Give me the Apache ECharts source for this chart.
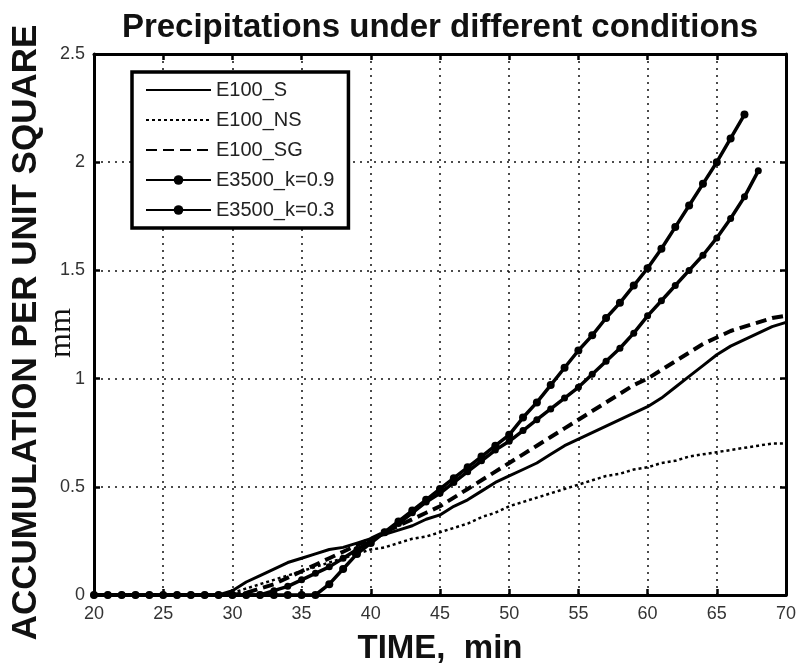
<!DOCTYPE html>
<html>
<head>
<meta charset="utf-8">
<script src="https://cdn.jsdelivr.net/npm/echarts@6/dist/echarts.min.js"></script>
<style>
html,body{margin:0;padding:0;background:#fff;}
#chart{width:799px;height:670px;}
</style>
</head>
<body>
<div id="chart"></div>
<script>
// ---- data ----
const time = [20,21,22,23,24,25,26,27,28,29,30,31,32,33,34,35,36,37,38,39,40,41,42,43,44,45,46,47,48,49,50,51,52,53,54,55,56,57,58,59,60,61,62,63,64,65,66,67,68,69,70];
const xTicks = [20,25,30,35,40,45,50,55,60,65,70];
const yTicks = [0,0.5,1,1.5,2,2.5];
const seriesNames = ['E100_S','E100_NS','E100_SG','E3500_k=0.9','E3500_k=0.3'];
const E100_S = [0,0,0,0,0,0,0,0,0,0,
  0.02,0.06,0.09,0.12,0.15,0.17,0.19,0.21,0.22,0.24,
  0.26,0.28,0.30,0.32,0.35,0.37,0.41,0.44,0.48,0.52,
  0.55,0.58,0.61,0.65,0.69,0.72,0.75,0.78,0.81,0.84,
  0.87,0.91,0.96,1.01,1.06,1.11,1.15,1.18,1.21,1.24,
  1.26];
const E100_NS = [0,0,0,0,0,0,0,0,0,0,
  0.01,0.03,0.05,0.07,0.09,0.11,0.13,0.15,0.17,0.19,
  0.21,0.22,0.24,0.26,0.27,0.29,0.31,0.33,0.36,0.38,
  0.41,0.43,0.45,0.47,0.49,0.51,0.53,0.55,0.56,0.58,
  0.59,0.61,0.62,0.64,0.65,0.66,0.67,0.68,0.69,0.70,
  0.70];
const E100_SG = [0,0,0,0,0,0,0,0,0,0,
  0,0.01,0.03,0.05,0.08,0.11,0.14,0.17,0.20,0.23,
  0.26,0.29,0.32,0.35,0.38,0.41,0.45,0.49,0.53,0.57,
  0.61,0.65,0.69,0.73,0.77,0.81,0.85,0.89,0.93,0.97,
  1.00,1.04,1.08,1.12,1.16,1.19,1.22,1.24,1.26,1.28,
  1.29];
const E3500_k09 = [0,0,0,0,0,0,0,0,0,0,
  0,0,0,0,0,0,0,0.05,0.12,0.19,
  0.24,0.29,0.34,0.39,0.44,0.49,0.54,0.59,0.64,0.69,
  0.74,0.82,0.89,0.97,1.05,1.13,1.20,1.28,1.35,1.43,
  1.51,1.60,1.70,1.80,1.90,2.00,2.11,2.22];
const E3500_k03 = [0,0,0,0,0,0,0,0,0,0,
  0,0,0,0.02,0.04,0.07,0.10,0.13,0.17,0.21,
  0.25,0.29,0.33,0.38,0.43,0.47,0.52,0.57,0.62,0.67,
  0.71,0.76,0.81,0.86,0.91,0.96,1.02,1.08,1.14,1.21,
  1.29,1.36,1.43,1.50,1.57,1.65,1.74,1.84,1.96];

function pairs(vals){ return vals.map(function(v,i){ return [time[i], v]; }); }

const chart = echarts.init(document.getElementById('chart'), null, {renderer:'canvas'});
const FONT = 'Liberation Sans';
const axisLine = {show:true, onZero:false, lineStyle:{color:'#000', width:3}};
const axisTick = {show:true, inside:true, length:6, lineStyle:{color:'#000', width:2.5}};
const splitLine = {show:true, lineStyle:{color:'#111', width:1.5, type:[2,5]}};

const option = {
  backgroundColor:'#fff',
  animation:false,
  title:{
    text:'Precipitations under different conditions',
    left:440, top:11, padding:0, textAlign:'center',
    textStyle:{fontFamily:FONT, fontSize:33, fontWeight:'bold', color:'#111'}
  },
  grid:{left:94, right:11, top:54, bottom:70, containLabel:false},
  legend:{
    orient:'vertical', left:132, top:72,
    padding:[8,14,8,13],
    backgroundColor:'#fff', borderColor:'#000', borderWidth:3.5,
    itemWidth:65, itemHeight:12, itemGap:10,
    selectedMode:false,
    textStyle:{fontFamily:FONT, fontSize:20, color:'#222', lineHeight:20},
    data:[
      {name:seriesNames[0], itemStyle:{opacity:0}},
      {name:seriesNames[1], itemStyle:{opacity:0}},
      {name:seriesNames[2], itemStyle:{opacity:0}},
      {name:seriesNames[3]},
      {name:seriesNames[4]}
    ]
  },
  xAxis:[{
    type:'value', min:20, max:70, interval:5, position:'bottom',
    name:'TIME,  min', nameLocation:'middle', nameGap:37,
    nameTextStyle:{fontFamily:FONT, fontSize:33, fontWeight:'bold', color:'#111'},
    axisLine:axisLine, axisTick:axisTick, splitLine:splitLine,
    axisLabel:{fontFamily:FONT, fontSize:18, color:'#333', margin:10,
      formatter:function(v){ return xTicks.indexOf(v)>=0 ? String(v) : ''; }}
  },{
    type:'value', min:20, max:70, interval:5, position:'top',
    axisLine:axisLine, axisTick:axisTick, splitLine:{show:false}, axisLabel:{show:false}
  }],
  yAxis:[{
    type:'value', min:0, max:2.5, interval:0.5, position:'left',
    name:'ACCUMULATION PER UNIT SQUARE', nameLocation:'middle', nameGap:50, nameRotate:90,
    nameTextStyle:{fontFamily:FONT, fontSize:35, fontWeight:'bold', color:'#111', padding:[0,16,0,0]},
    axisLine:axisLine, axisTick:axisTick, splitLine:splitLine,
    axisLabel:{fontFamily:FONT, fontSize:18, color:'#333', margin:9,
      formatter:function(v){ return yTicks.indexOf(v)>=0 ? String(v) : ''; }}
  },{
    type:'value', min:0, max:2.5, interval:0.5, position:'right',
    axisLine:axisLine, axisTick:axisTick, splitLine:{show:false}, axisLabel:{show:false}
  }],
  graphic:[{
    type:'text', x:62, y:333, rotation:Math.PI/2,
    style:{text:'mm', font:'32px "Liberation Serif"', fill:'#111', textAlign:'center', textVerticalAlign:'middle'}
  }],
  series:[
    {name:seriesNames[0], type:'line', data:pairs(E100_S), symbol:'none', z:3,
     lineStyle:{color:'#000', width:3}, itemStyle:{color:'#000'}},
    {name:seriesNames[1], type:'line', data:pairs(E100_NS), symbol:'none', z:3,
     lineStyle:{color:'#000', width:2.5, type:[3,3]}, itemStyle:{color:'#000'}},
    {name:seriesNames[2], type:'line', data:pairs(E100_SG), symbol:'none', z:3,
     lineStyle:{color:'#000', width:4, type:[11,6]}, itemStyle:{color:'#000'}},
    {name:seriesNames[3], type:'line', data:pairs(E3500_k09), symbol:'circle', symbolSize:8, z:4,
     lineStyle:{color:'#000', width:3.5}, itemStyle:{color:'#000'}},
    {name:seriesNames[4], type:'line', data:pairs(E3500_k03), symbol:'circle', symbolSize:7, z:4,
     lineStyle:{color:'#000', width:3.5}, itemStyle:{color:'#000'}}
  ]
};
chart.setOption(option);
</script>
</body>
</html>
